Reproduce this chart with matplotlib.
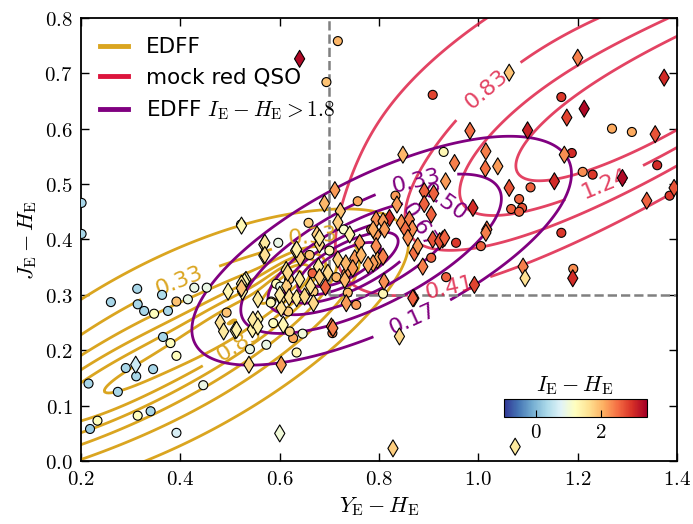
import numpy as np
import matplotlib
matplotlib.use("Agg")
import matplotlib.pyplot as plt
from matplotlib.lines import Line2D
from matplotlib.ticker import FuncFormatter

plt.rcParams['mathtext.fontset'] = 'cm'

# EDFF sources drawn as circles: Y-H, J-H, I-H
circ_yh = [0.201, 0.201, 0.313, 0.26, 0.314, 0.327, 0.347, 0.363, 0.375, 0.392, 0.415, 0.428, 0.453,
           0.365, 0.38, 0.392, 0.29, 0.311, 0.345, 0.215, 0.274, 0.314, 0.34, 0.233, 0.218, 0.392, 0.446,
           0.522, 0.493, 0.597, 0.66, 0.70, 0.593, 0.583, 0.587, 0.627, 0.646, 0.634, 0.573, 0.54, 0.658,
           0.729, 0.666, 0.714, 0.619, 0.601, 0.582, 0.617, 0.668, 0.737, 0.62, 0.754, 0.706, 0.757, 0.833,
           0.784, 0.734, 0.808, 0.905, 0.955, 0.935, 0.93, 0.717, 0.694, 0.908,
           1.167, 1.269, 1.309, 1.188, 1.21, 1.23, 1.36, 1.385, 1.105, 1.082, 1.066, 1.088, 1.082, 1.167,
           1.191, 1.005]
circ_jh = [0.466, 0.41, 0.311, 0.287, 0.283, 0.271, 0.266, 0.30, 0.271, 0.288, 0.292, 0.313, 0.313,
           0.224, 0.213, 0.19, 0.168, 0.153, 0.166, 0.14, 0.125, 0.082, 0.09, 0.073, 0.058, 0.051, 0.137,
           0.427, 0.268, 0.394, 0.372, 0.38, 0.32, 0.288, 0.249, 0.222, 0.23, 0.196, 0.21, 0.202, 0.43,
           0.418, 0.339, 0.332, 0.328, 0.315, 0.286, 0.27, 0.306, 0.304, 0.234, 0.282, 0.231, 0.469, 0.479,
           0.418, 0.339, 0.302, 0.367, 0.394, 0.332, 0.558, 0.758, 0.684, 0.661,
           0.657, 0.60, 0.594, 0.556, 0.522, 0.517, 0.534, 0.479, 0.494, 0.473, 0.455, 0.457, 0.45, 0.412,
           0.347, 0.388]
circ_ih = [0.3, 0.3, 0.3, 0.3, 0.3, 0.3, 1.2, 0.35, 0.3, 1.9, 0.9, 0.9, 0.9,
           0.3, 1.2, 1.2, 0.3, 0.3, 0.3, 0.3, 0.3, 1.2, 0.3, 1.2, 0.2, 0.7, 0.9,
           1.2, 1.9, 0.9, 1.9, 1.3, 1.2, 1.8, 1.2, 2.1, 1.0, 1.3, 0.9, 0.9, 1.8,
           1.1, 2.6, 2.0, 1.9, 0.9, 1.3, 1.8, 1.8, 2.0, 1.7, 2.2, 2.4, 2.1, 2.2,
           2.3, 2.2, 1.3, 2.6, 2.9, 2.6, 1.3, 2.0, 1.9, 2.8,
           2.9, 2.1, 2.1, 3.0, 2.3, 2.9, 3.0, 2.9, 2.6, 2.6, 2.6, 2.7, 2.6, 2.9,
           2.3, 2.6]

# second sample drawn as diamonds
diam_yh = [0.64, 1.062, 1.2, 1.374, 1.213, 1.178, 0.983, 1.099, 1.356, 1.015, 1.014, 1.039, 1.173, 1.29,
           1.394, 1.339, 1.153, 1.062, 0.989, 1.017, 0.952, 0.848, 0.934, 0.836, 0.891, 0.91, 0.891, 0.905,
           0.821, 1.09, 1.094, 1.19, 0.992, 0.87, 0.81, 0.841, 0.828, 1.074, 0.888, 0.928, 1.015, 0.908,
           0.922, 0.932, 0.871,
           0.711, 0.69, 0.722, 0.523, 0.717, 0.741, 0.675, 0.68, 0.568, 0.568, 0.632, 0.641, 0.613, 0.678,
           0.697, 0.717, 0.733, 0.751, 0.731, 0.692, 0.68, 0.662, 0.64, 0.614, 0.532, 0.556, 0.603, 0.619,
           0.634, 0.65, 0.603, 0.668, 0.734, 0.607, 0.556, 0.545, 0.529, 0.525, 0.704, 0.496, 0.48, 0.487,
           0.51, 0.523, 0.523, 0.546, 0.556, 0.513, 0.538, 0.603, 0.60, 0.31, 0.707, 0.794, 0.808, 0.811,
           0.794, 0.788, 0.845, 0.861, 0.867, 0.853, 0.858, 0.878, 0.761, 0.764, 0.747, 0.794, 0.797, 0.788,
           0.778, 0.808, 0.868, 0.57, 0.57, 0.634, 0.68, 0.616, 0.60]
diam_jh = [0.726, 0.701, 0.728, 0.692, 0.636, 0.62, 0.596, 0.597, 0.59, 0.559, 0.528, 0.532, 0.553, 0.511,
           0.493, 0.47, 0.505, 0.493, 0.457, 0.418, 0.538, 0.553, 0.505, 0.463, 0.487, 0.483, 0.464, 0.445,
           0.439, 0.351, 0.33, 0.33, 0.318, 0.294, 0.324, 0.225, 0.023, 0.026, 0.351, 0.40, 0.412, 0.40,
           0.397, 0.403, 0.376,
           0.489, 0.465, 0.451, 0.425, 0.431, 0.409, 0.409, 0.391, 0.391, 0.371, 0.38, 0.367, 0.345, 0.351,
           0.34, 0.364, 0.357, 0.366, 0.327, 0.314, 0.332, 0.316, 0.328, 0.316, 0.327, 0.292, 0.294, 0.296,
           0.294, 0.297, 0.276, 0.285, 0.285, 0.246, 0.256, 0.238, 0.324, 0.306, 0.243, 0.306, 0.25, 0.234,
           0.236, 0.32, 0.312, 0.255, 0.243, 0.237, 0.174, 0.174, 0.05, 0.174, 0.24, 0.436, 0.433, 0.418,
           0.409, 0.418, 0.43, 0.436, 0.419, 0.418, 0.403, 0.388, 0.394, 0.372, 0.348, 0.388, 0.363, 0.357,
           0.354, 0.369, 0.294, 0.394, 0.372, 0.382, 0.403, 0.34, 0.30]
diam_ih = [3.3, 1.9, 2.4, 3.0, 3.3, 2.8, 2.5, 3.1, 2.7, 2.4, 2.5, 2.2, 2.3, 3.3,
           2.7, 2.6, 3.0, 2.7, 3.0, 2.5, 2.4, 2.0, 2.2, 2.2, 2.6, 2.6, 2.6, 2.6,
           3.0, 2.4, 1.6, 3.0, 2.8, 2.6, 2.3, 1.7, 1.8, 1.5, 2.4, 2.6, 2.4, 2.7,
           2.7, 2.6, 2.5,
           2.2, 2.0, 1.9, 1.3, 1.8, 1.4, 1.8, 1.7, 1.6, 1.5, 1.6, 1.8, 1.6, 1.5,
           1.7, 1.8, 2.0, 2.2, 2.0, 2.6, 1.8, 1.6, 1.5, 1.8, 1.3, 1.5, 1.6, 1.6,
           1.5, 1.7, 1.6, 1.7, 2.2, 1.3, 1.4, 1.4, 1.3, 1.4, 2.5, 1.3, 1.6, 1.5,
           1.4, 1.5, 1.9, 1.5, 1.4, 1.4, 1.7, 2.2, 1.0, 0.6, 2.4, 2.3, 2.2, 2.2,
           2.2, 2.1, 2.3, 2.4, 2.3, 2.5, 2.3, 2.2, 2.2, 2.0, 2.2, 2.3, 2.1, 2.2,
           2.1, 2.4, 2.6, 1.5, 1.6, 1.4, 1.5, 1.7, 1.5]

# smoothed densities behind the contours, as gaussian mixtures
# columns: x0, y0, sig_x, sig_y, rho, weight
edff_mix = [(0.63, 0.335, 0.04, 0.03, 0.6, 0.5),
            (0.55, 0.28, 0.10, 0.06, 0.8, 0.45),
            (0.25, 0.125, 0.25, 0.12, 0.9, 0.55),
            (0.38, 0.20, 0.30, 0.17, 0.7, 0.5)]
red_mix = [(0.72, 0.35, 0.07, 0.04, 0.7, 0.55),
           (0.77, 0.37, 0.17, 0.095, 0.7, 0.52),
           (0.86, 0.395, 0.36, 0.19, 0.65, 0.22)]
qso_mix = [(1.5, 0.72, 0.33, 0.20, 0.866, 1.9),
           (1.15, 0.77, 0.35, 0.20, 0.8, 0.55),
           (1.08, 0.55, 0.25, 0.16, 0.75, 0.75)]

edff_levels = [0.17, 0.33, 0.50, 0.67, 0.83, 1.00, 1.17, 1.33]
red_levels = [0.17, 0.33, 0.50, 0.67, 0.83, 1.00]
qso_levels = [0.41, 0.83, 1.24, 1.65]

edff_lab = [(0.40, 0.32), (0.52, 0.21), (0.665, 0.41)]
red_lab = [(0.87, 0.52), (0.94, 0.49), (0.90, 0.44), (0.86, 0.27)]
qso_lab = [(1.0, 0.69), (1.25, 0.51), (0.94, 0.32)]

cut_yh = 0.7
cut_jh = 0.3


def gauss_mix(X, Y, comps):
    Z = np.zeros_like(X)
    for x0, y0, sx, sy, rho, w in comps:
        dx = (X - x0) / sx
        dy = (Y - y0) / sy
        q = (dx**2 - 2 * rho * dx * dy + dy**2) / (1 - rho**2)
        Z += w * np.exp(-0.5 * q)
    return Z


gx, gy = np.meshgrid(np.linspace(0.0, 1.7, 400), np.linspace(-0.2, 1.0, 400))

fig = plt.figure(figsize=(6.93, 5.24), dpi=100)
ax = fig.add_axes([0.117, 0.120, 0.860, 0.846])

cs1 = ax.contour(gx, gy, gauss_mix(gx, gy, edff_mix), levels=edff_levels, colors='goldenrod', linewidths=2)
cs2 = ax.contour(gx, gy, gauss_mix(gx, gy, qso_mix), levels=qso_levels, colors='crimson', linewidths=2, alpha=0.8)
cs3 = ax.contour(gx, gy, gauss_mix(gx, gy, red_mix), levels=red_levels, colors='purple', linewidths=2)
ax.clabel(cs1, fmt='%.2f', fontsize=16, manual=edff_lab)
ax.clabel(cs2, fmt='%.2f', fontsize=16, manual=qso_lab)
ax.clabel(cs3, fmt='%.2f', fontsize=16, manual=red_lab)

ax.plot([cut_yh, cut_yh], [cut_jh, 0.8], ls='--', color='grey', lw=1.8)
ax.plot([cut_yh, 1.4], [cut_jh, cut_jh], ls='--', color='grey', lw=1.8)

cmap = plt.get_cmap('RdYlBu_r')
ax.scatter(circ_yh, circ_jh, c=circ_ih, cmap=cmap, vmin=-1, vmax=3.4, s=42, marker='o',
           edgecolors='black', linewidths=0.8, zorder=5)
sc = ax.scatter(diam_yh, diam_jh, c=diam_ih, cmap=cmap, vmin=-1, vmax=3.4, s=75, marker='d',
                edgecolors='black', linewidths=0.8, zorder=5)

ax.set_xlim(0.2, 1.4)
ax.set_ylim(0.0, 0.8)
ax.set_xticks([0.2, 0.4, 0.6, 0.8, 1.0, 1.2, 1.4])
ax.set_yticks(np.arange(0, 0.81, 0.1))
fmt = FuncFormatter(lambda v, p: r'$%.1f$' % v)
ax.xaxis.set_major_formatter(fmt)
ax.yaxis.set_major_formatter(fmt)
ax.tick_params(direction='in', top=True, right=True, length=6, width=1, labelsize=15, pad=6)
for sp in ax.spines.values():
    sp.set_linewidth(1.3)
ax.set_xlabel(r'$Y_{\rm E} - H_{\rm E}$', fontsize=16)
ax.set_ylabel(r'$J_{\rm E} - H_{\rm E}$', fontsize=16)

handles = [Line2D([], [], color='goldenrod', lw=3.5),
           Line2D([], [], color='crimson', lw=3.5),
           Line2D([], [], color='purple', lw=3.5)]
ax.legend(handles, ['EDFF', 'mock red QSO', r'EDFF $I_{\rm E} - H_{\rm E} > 1.8$'],
          loc='upper left', frameon=False, fontsize=15.5, handlelength=1.3)

cax = fig.add_axes([0.727, 0.204, 0.206, 0.034])
cb = fig.colorbar(sc, cax=cax, orientation='horizontal', ticks=[0, 2])
cb.ax.xaxis.set_major_formatter(FuncFormatter(lambda v, p: r'$%d$' % v))
cb.ax.tick_params(direction='in', length=5, labelsize=15)
cb.ax.set_title(r'$I_{\rm E} - H_{\rm E}$', fontsize=16, pad=6)

fig.savefig('out.png', dpi=100)
